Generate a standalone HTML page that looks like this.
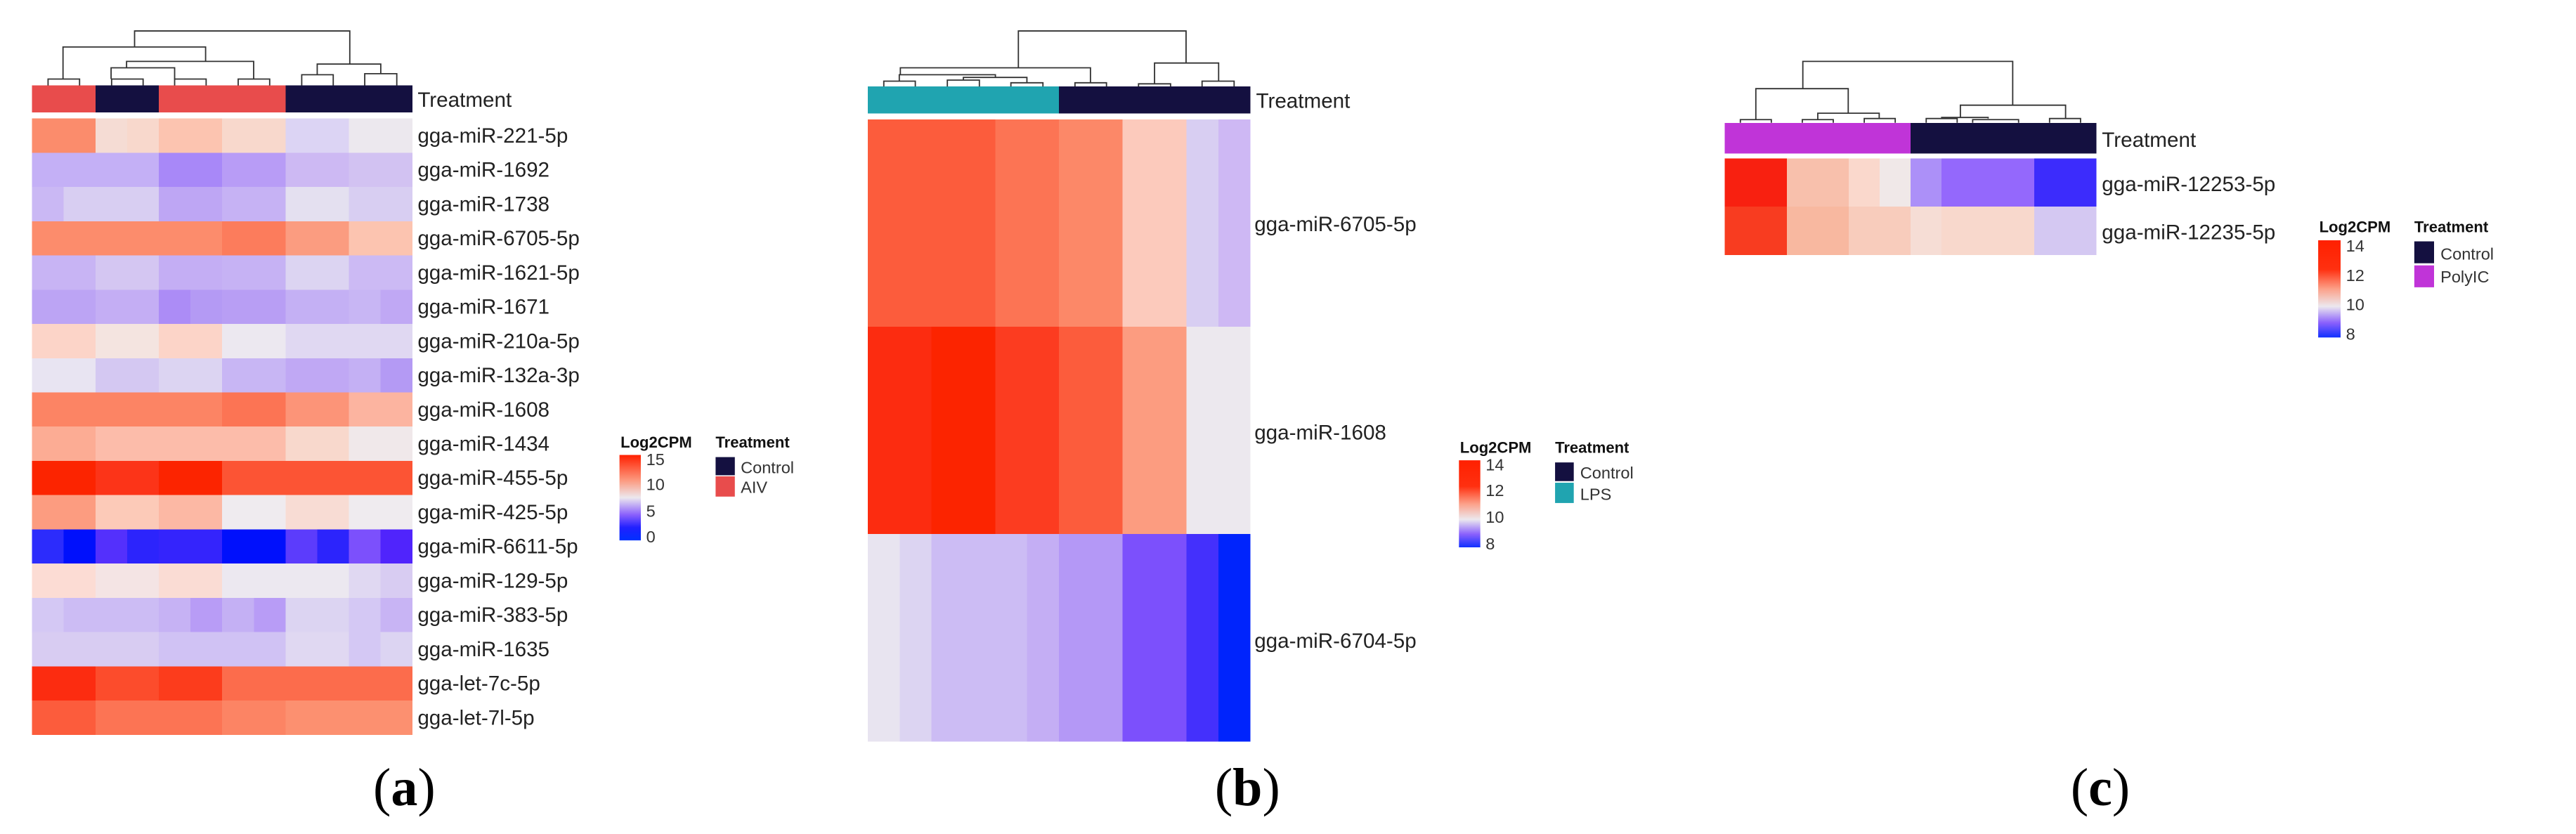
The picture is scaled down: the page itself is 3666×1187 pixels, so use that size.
<!DOCTYPE html>
<html><head><meta charset="utf-8"><style>
html,body{margin:0;padding:0;background:#fff}
svg{display:block}
text{font-family:"Liberation Sans",sans-serif;fill:#222}
.lab{font-size:39px}
.tt{font-size:29px;font-weight:bold;fill:#111}
.tk{font-size:31px;fill:#333}
.big{font-family:"Liberation Serif",serif;font-size:100px;fill:#000}
.d{stroke:#333;stroke-width:2.4;fill:none}
</style></head><body>
<svg width="3666" height="1187" viewBox="0 0 3666 1187" xmlns="http://www.w3.org/2000/svg">
<defs>
<linearGradient id="ga" x1="0" y1="0" x2="0" y2="1">
<stop offset="0" stop-color="#ff2000"/><stop offset="0.3" stop-color="#fc9a80"/><stop offset="0.5" stop-color="#ece8ee"/><stop offset="0.7" stop-color="#8a60fc"/><stop offset="0.85" stop-color="#2020ff"/><stop offset="1" stop-color="#0030ff"/></linearGradient>
<linearGradient id="gb" x1="0" y1="0" x2="0" y2="1">
<stop offset="0" stop-color="#ff2000"/><stop offset="0.3" stop-color="#ff3010"/><stop offset="0.5" stop-color="#fca088"/><stop offset="0.68" stop-color="#ece8ee"/><stop offset="0.85" stop-color="#8a60fc"/><stop offset="1" stop-color="#1030ff"/></linearGradient>
</defs>
<g id="A" transform="scale(0.76)"></g>
<g id="B" transform="translate(1200,0) scale(0.76)"></g>
<g id="C" transform="translate(2400,0) scale(0.76)"></g>
</svg>
<script>
var NS="http://www.w3.org/2000/svg";
function el(g,t,a,txt){var e=document.createElementNS(NS,t);for(var k in a)e.setAttribute(k,a[k]);if(txt!=null)e.textContent=txt;g.appendChild(e);return e;}
function heat(g,x0,x1,ys,rows){var n=rows[0].length,w=(x1-x0)/n;
 rows.forEach(function(r,i){r.forEach(function(c,j){el(g,'rect',{x:x0+j*w,y:ys[i],width:w+0.6,height:ys[i+1]-ys[i]+0.6,fill:c,'shape-rendering':'crispEdges'});});});}
function line(g,pts){el(g,'polyline',{points:pts,'class':'d'});}
function rep(a){var o=[];for(var i=0;i<a.length;i+=2)for(var k=0;k<a[i];k++)o.push(a[i+1]);return o;}
function pair(g,x1,x2,y,bot){line(g,x1+','+bot+' '+x1+','+y+' '+x2+','+y+' '+x2+','+bot);}

var A=document.getElementById('A');
var rowsA=[
rep([2,'#fb8c6c',1,'#f5dcd4',1,'#f8d8cc',2,'#fcc4b0',2,'#f8d8cc',2,'#dcd4f4',2,'#ece8ee']),
rep([4,'#c4b0f6',2,'#a888f8',2,'#b89cf6',2,'#cdb9f3',2,'#d2c2f2']),
rep([1,'#cab8f4',3,'#d8cef2',2,'#bea6f4',2,'#c6b2f4',2,'#e4e0f0',2,'#d8cef2']),
rep([6,'#fc8c6c',2,'#fc7c5c',2,'#fb9c80',2,'#fcc4b0']),
rep([2,'#c8b4f4',2,'#d4c6f2',2,'#c4aef4',2,'#c6b2f4',2,'#dcd4f2',2,'#ccbaf4']),
rep([2,'#bca4f4',2,'#c4aef4',1,'#ac8cf6',1,'#b49af4',2,'#b89ef4',2,'#c4b0f4',1,'#c8b6f4',1,'#c0a8f4']),
rep([2,'#fcd4c8',2,'#f4e4e0',2,'#fcd4c8',2,'#ece8f0',4,'#e0d8f2']),
rep([2,'#e8e4f2',2,'#d4c8f2',2,'#dcd4f2',2,'#c8b6f4',2,'#c0a8f4',1,'#c4b0f4',1,'#b49af4']),
rep([6,'#fc8464',2,'#fc7454',2,'#fc9478',2,'#fcb4a0']),
rep([2,'#fcac94',6,'#fcbcaa',2,'#f8d8cc',2,'#f0e8ea']),
rep([2,'#fc2400',2,'#fc3418',2,'#fc2400',6,'#fc5434']),
rep([2,'#fc9c80',2,'#fccab8',2,'#fcb8a4',2,'#efebef',2,'#f8dcd4',2,'#efebef']),
rep([1,'#2c2cfc',1,'#0010fc',1,'#5430fc',1,'#2c24fc',2,'#3424fc',2,'#0010fc',1,'#5c3cfc',1,'#2c24fc',1,'#7c50fc',1,'#5024fc']),
rep([2,'#fcdcd4',2,'#f4e4e4',2,'#fadcd4',4,'#ece8f0',1,'#e0d8f2',1,'#d8ccf2']),
rep([1,'#d4c8f4',3,'#ccbcf4',1,'#c6b2f4',1,'#b89cf6',1,'#c4b0f4',1,'#b89cf6',2,'#dcd4f2',1,'#d4c8f4',1,'#c8b4f4']),
rep([4,'#d8ccf2',4,'#d0c2f4',2,'#e0d8f2',1,'#d4c8f4',1,'#dcd4f2']),
rep([2,'#fc2c10',2,'#fc4c2c',2,'#fc3c1c',6,'#fc6c4c']),
rep([2,'#fc5c3c',4,'#fc7454',2,'#fc8464',4,'#fc9070'])];
var ysA=[];for(var i=0;i<=18;i++)ysA.push(222+i*(1376-222)/18);
heat(A,60,772,[160,210],[rep([2,'#e84c4c',2,'#141040',4,'#e84c4c',4,'#141040'])]);
heat(A,60,772,ysA,rowsA);
var labsA=['gga-miR-221-5p','gga-miR-1692','gga-miR-1738','gga-miR-6705-5p','gga-miR-1621-5p','gga-miR-1671','gga-miR-210a-5p','gga-miR-132a-3p','gga-miR-1608','gga-miR-1434','gga-miR-455-5p','gga-miR-425-5p','gga-miR-6611-5p','gga-miR-129-5p','gga-miR-383-5p','gga-miR-1635','gga-let-7c-5p','gga-let-7l-5p'];
labsA.forEach(function(t,i){el(A,'text',{x:782,y:(ysA[i]+ysA[i+1])/2+13,'class':'lab'},t);});
el(A,'text',{x:782,y:200,'class':'lab'},'Treatment');
line(A,'252,88 252,58 655,58 655,120');
line(A,'118,148 118,88 385,88 385,115');
line(A,'237,127 237,115 475,115 475,148');
line(A,'208,148 208,127 327,127 327,148');
pair(A,90,149,148,160);pair(A,209,268,148,160);pair(A,327,386,148,160);pair(A,446,505,148,160);
line(A,'594,140 594,120 713,120 713,138');
pair(A,565,624,140,160);pair(A,683,743,138,160);
el(A,'text',{x:1162,y:838,'class':'tt'},'Log2CPM');
el(A,'rect',{x:1160,y:852,width:40,height:160,fill:'url(#ga)'});
[['15',860],['10',907],['5',957],['0',1005]].forEach(function(a){el(A,'text',{x:1210,y:a[1]+11,'class':'tk'},a[0]);});
el(A,'text',{x:1340,y:838,'class':'tt'},'Treatment');
el(A,'rect',{x:1340,y:856,width:36,height:34,fill:'#141040'});
el(A,'rect',{x:1340,y:892,width:36,height:38,fill:'#e84c4c'});
el(A,'text',{x:1387,y:886,'class':'tk'},'Control');
el(A,'text',{x:1387,y:923,'class':'tk'},'AIV');
var t=el(A,'text',{x:757,y:1508,'class':'big','text-anchor':'middle'});t.innerHTML='(<tspan font-weight="bold">a</tspan>)';

var B=document.getElementById('B');
heat(B,46,762,[162,212],[rep([6,'#20a4b0',6,'#141040'])]);
heat(B,46,762,[224,612,1000,1388],[
rep([4,'#fc5c3c',2,'#fc7454',2,'#fc8868',2,'#fccabc',1,'#d8cef2',1,'#ceb8f4']),
rep([2,'#fc2c10',2,'#fc2400',2,'#fc3c20',2,'#fc5c3c',2,'#fc9c80',2,'#ece8ee']),
rep([1,'#e8e4f0',1,'#dcd4f2',3,'#ccbcf4',1,'#c4aef4',2,'#b498f6',2,'#7c50fc',1,'#4430fc',1,'#0024fc'])]);
el(B,'text',{x:773,y:202,'class':'lab'},'Treatment');
[['gga-miR-6705-5p',420],['gga-miR-1608',810],['gga-miR-6704-5p',1200]].forEach(function(a){el(B,'text',{x:770,y:a[1]+13,'class':'lab'},a[0]);});
line(B,'328,127 328,58 642,58 642,118');
line(B,'107,140 107,127 463,127 463,155');
pair(B,434,493,155,162);
line(B,'105,152 105,140 285,140 285,145');
pair(B,76,135,152,162);
line(B,'225,150 225,145 344,145 344,155');
pair(B,195,255,150,162);pair(B,314,374,155,162);
line(B,'583,157 583,118 703,118 703,152');
pair(B,553,613,157,162);pair(B,672,732,152,162);
el(B,'text',{x:1155,y:848,'class':'tt'},'Log2CPM');
el(B,'rect',{x:1153,y:862,width:40,height:163,fill:'url(#gb)'});
[['14',870],['12',918],['10',968],['8',1018]].forEach(function(a){el(B,'text',{x:1203,y:a[1]+11,'class':'tk'},a[0]);});
el(B,'text',{x:1333,y:848,'class':'tt'},'Treatment');
el(B,'rect',{x:1333,y:866,width:35,height:35,fill:'#141040'});
el(B,'rect',{x:1333,y:904,width:35,height:38,fill:'#20a4b0'});
el(B,'text',{x:1380,y:896,'class':'tk'},'Control');
el(B,'text',{x:1380,y:936,'class':'tk'},'LPS');
t=el(B,'text',{x:757,y:1508,'class':'big','text-anchor':'middle'});t.innerHTML='(<tspan font-weight="bold">b</tspan>)';

var C=document.getElementById('C');
heat(C,72,767,[230,287],[rep([6,'#c034d8',6,'#141040'])]);
heat(C,72,767,[297,387,477],[
rep([2,'#f82010',2,'#f8c0ac',1,'#fad8cc',1,'#f0e8e8',1,'#ac90f8',3,'#9468fc',2,'#3c2cfc']),
rep([2,'#f83c20',2,'#f8b8a0',2,'#f8ccbc',1,'#f6ddd5',3,'#f8d8cc',2,'#d4c8f2'])]);
el(C,'text',{x:778,y:275,'class':'lab'},'Treatment');
el(C,'text',{x:778,y:358,'class':'lab'},'gga-miR-12253-5p');
el(C,'text',{x:778,y:448,'class':'lab'},'gga-miR-12235-5p');
line(C,'218,166 218,115 611,115 611,197');
line(C,'130,224 130,166 303,166 303,212');
pair(C,101,159,224,230);
line(C,'246,224 246,212 361,212 361,222');
pair(C,217,275,224,230);pair(C,333,391,222,230);
line(C,'513,220 513,197 710,197 710,222');
line(C,'478,222 478,220 565,220 565,222');
pair(C,449,507,222,230);pair(C,536,622,224,230);
pair(C,680,738,222,230);
el(C,'text',{x:1185,y:435,'class':'tt'},'Log2CPM');
el(C,'rect',{x:1183,y:450,width:42,height:182,fill:'url(#gb)'});
[['14',460],['12',515],['10',570],['8',625]].forEach(function(a){el(C,'text',{x:1235,y:a[1]+11,'class':'tk'},a[0]);});
el(C,'text',{x:1363,y:435,'class':'tt'},'Treatment');
el(C,'rect',{x:1363,y:452,width:37,height:41,fill:'#141040'});
el(C,'rect',{x:1363,y:497,width:37,height:41,fill:'#c034d8'});
el(C,'text',{x:1412,y:486,'class':'tk'},'Control');
el(C,'text',{x:1412,y:529,'class':'tk'},'PolyIC');
t=el(C,'text',{x:775,y:1508,'class':'big','text-anchor':'middle'});t.innerHTML='(<tspan font-weight="bold">c</tspan>)';
</script>
</body></html>
